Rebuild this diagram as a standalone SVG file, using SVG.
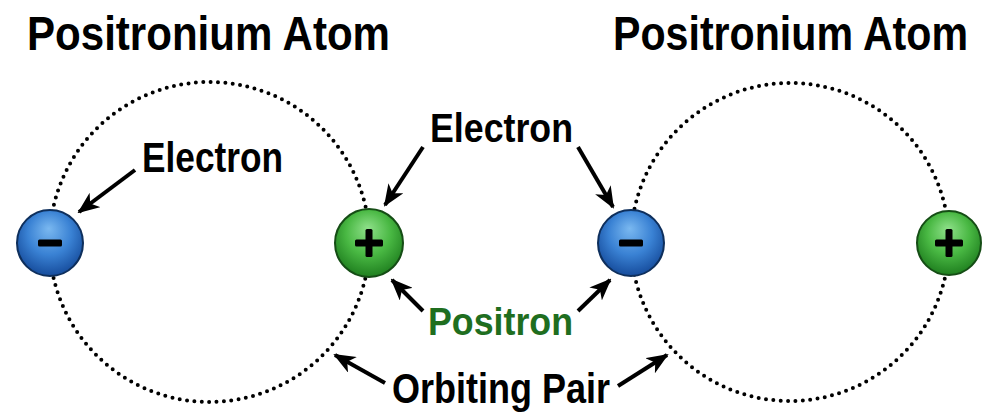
<svg xmlns="http://www.w3.org/2000/svg" width="982" height="416" viewBox="0 0 982 416">
  <defs>
    <radialGradient id="gBlue" cx="50%" cy="40%" r="60%" fx="48%" fy="28%">
      <stop offset="0" stop-color="#7ab8f0"/>
      <stop offset="0.55" stop-color="#3a82d4"/>
      <stop offset="1" stop-color="#164c9c"/>
    </radialGradient>
    <radialGradient id="gGreen" cx="50%" cy="40%" r="60%" fx="48%" fy="28%">
      <stop offset="0" stop-color="#8fe08a"/>
      <stop offset="0.55" stop-color="#49b843"/>
      <stop offset="1" stop-color="#1f7f1f"/>
    </radialGradient>
    <marker id="ah" viewBox="0 0 22 18" refX="20" refY="9" markerWidth="22" markerHeight="18" markerUnits="userSpaceOnUse" orient="auto">
      <path d="M0,0 L22,9 L0,18 L6,9 Z" fill="#000"/>
    </marker>
  </defs>
  <style>
    .orbit { fill: none; stroke: #000; stroke-width: 4; stroke-linecap: round; stroke-dasharray: 0 7.4; }
    .title { font-family: "Liberation Sans", Arial, sans-serif; font-weight: bold; font-size: 41px; fill: #000; }
    .lbl { font-family: "Liberation Sans", Arial, sans-serif; font-weight: bold; font-size: 35.5px; fill: #000; }
    .pos { font-family: "Liberation Sans", Arial, sans-serif; font-weight: bold; font-size: 35.5px; fill: #1f6e1f; }
    .arrow { stroke: #000; stroke-width: 4; fill: none; marker-end: url(#ah); }
    .electron { fill: url(#gBlue); stroke: #0e2f5c; stroke-width: 2; }
    .positron { fill: url(#gGreen); stroke: #154d15; stroke-width: 2; }
    .sign { fill: #000; }
  </style>
  <rect width="982" height="416" fill="#fff"/>

  <g id="orbits">
    <circle class="orbit" cx="209.5" cy="242" r="160"/>
    <circle class="orbit" cx="790" cy="242" r="159"/>
  </g>

  <g id="titles">
    <text class="title" transform="translate(27,50) scale(1,1.19)" textLength="363" lengthAdjust="spacingAndGlyphs">Positronium Atom</text>
    <text class="title" transform="translate(613,50) scale(1,1.19)" textLength="355" lengthAdjust="spacingAndGlyphs">Positronium Atom</text>
  </g>

  <g id="connectors">
    <line class="arrow" x1="135" y1="170" x2="79" y2="212"/>
    <line class="arrow" x1="423" y1="147" x2="385" y2="205"/>
    <line class="arrow" x1="578" y1="147" x2="613" y2="207"/>
    <line class="arrow" x1="423" y1="311" x2="392" y2="280"/>
    <line class="arrow" x1="578" y1="311" x2="610" y2="280"/>
    <line class="arrow" x1="385" y1="383" x2="335" y2="355"/>
    <line class="arrow" x1="618" y1="386" x2="667" y2="355"/>
  </g>

  <g id="electron-left">
    <circle class="electron" cx="50" cy="243" r="33"/>
    <rect class="sign" x="38" y="239.5" width="24" height="7" rx="1.5"/>
  </g>
  <g id="positron-left">
    <circle class="positron" cx="369" cy="243" r="34"/>
    <rect class="sign" x="355" y="239.5" width="28" height="7" rx="1.5"/>
    <rect class="sign" x="365.5" y="229" width="7" height="28" rx="1.5"/>
  </g>
  <g id="electron-right">
    <circle class="electron" cx="631" cy="243" r="33"/>
    <rect class="sign" x="619" y="239.5" width="24" height="7" rx="1.5"/>
  </g>
  <g id="positron-right">
    <circle class="positron" cx="949" cy="243" r="32"/>
    <rect class="sign" x="935" y="239.5" width="28" height="7" rx="1.5"/>
    <rect class="sign" x="945.5" y="229" width="7" height="28" rx="1.5"/>
  </g>

  <g id="labels">
    <text class="lbl" transform="translate(142,172) scale(1,1.18)" textLength="141" lengthAdjust="spacingAndGlyphs">Electron</text>
    <text class="lbl" transform="translate(430,142) scale(1,1.15)" textLength="143" lengthAdjust="spacingAndGlyphs">Electron</text>
    <text class="pos" transform="translate(428,335) scale(1,1.1)" textLength="145" lengthAdjust="spacingAndGlyphs">Positron</text>
    <text class="lbl" transform="translate(392,403) scale(1,1.18)" textLength="218" lengthAdjust="spacingAndGlyphs">Orbiting Pair</text>
  </g>
</svg>
